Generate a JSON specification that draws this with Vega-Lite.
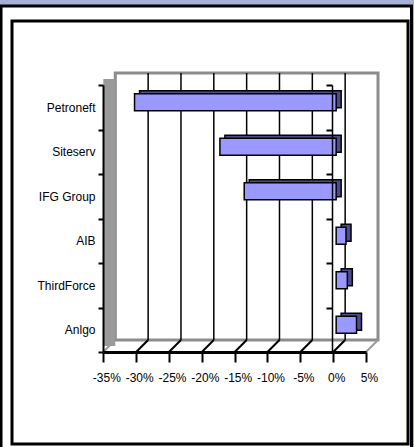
{
  "$schema": "https://vega.github.io/schema/vega-lite/v6.json",
  "width": 396,
  "height": 423,
  "autosize": {"type": "none"},
  "padding": {"left": 12, "top": 21, "right": 6, "bottom": 3},
  "background": "#a4b0d6",
  "config": {"view": {"stroke": null}, "font": "Liberation Sans"},
  "datasets": {
    "returns": [
      {"company": "Petroneft", "change": -30.7},
      {"company": "Siteserv", "change": -17.7},
      {"company": "IFG Group", "change": -14.0},
      {"company": "AIB", "change": 1.5},
      {"company": "ThirdForce", "change": 1.7},
      {"company": "Anlgo", "change": 3.1}
    ],
    "ticks": [{"t": -35}, {"t": -30}, {"t": -25}, {"t": -20}, {"t": -15}, {"t": -10}, {"t": -5}, {"t": 0}, {"t": 5}],
    "one": [{}]
  },
  "resolve": {"scale": {"y": "independent"}, "axis": {"y": "independent"}},
  "layer": [
    {
      "data": {"name": "one"},
      "mark": {"type": "rect", "fill": "white", "stroke": "black", "strokeWidth": 3, "xOffset": -102.3, "x2Offset": 45.5, "yOffset": -79, "y2Offset": 119},
      "encoding": {
        "x": {"datum": -35, "type": "quantitative"},
        "x2": {"datum": 5},
        "y": {"datum": 6, "type": "quantitative", "scale": {"domain": [0, 6], "range": [331, 64]}, "axis": null},
        "y2": {"datum": 0}
      }
    },
    {
      "data": {"name": "one"},
      "mark": {"type": "rect", "fill": null, "stroke": "black", "strokeWidth": 3, "xOffset": -91.3, "x2Offset": 42, "yOffset": -64, "y2Offset": 92},
      "encoding": {
        "x": {"datum": -35, "type": "quantitative"},
        "x2": {"datum": 5},
        "y": {"datum": 6, "type": "quantitative", "scale": {"domain": [0, 6], "range": [331, 64]}, "axis": null},
        "y2": {"datum": 0}
      }
    },
    {
      "data": {"name": "one"},
      "mark": {"type": "rect", "fill": "white", "stroke": "#8c8c8c", "strokeWidth": 3, "xOffset": 12, "x2Offset": 12, "yOffset": -12, "y2Offset": -12},
      "encoding": {
        "x": {"datum": -35, "type": "quantitative"},
        "x2": {"datum": 5},
        "y": {"datum": 0, "type": "quantitative", "scale": {"domain": [0, 6], "range": [331, 64]}, "axis": null},
        "y2": {"datum": 6}
      }
    },
    {
      "data": {"name": "one"},
      "mark": {"type": "rule", "stroke": "#9a9a9a", "strokeWidth": 12, "strokeCap": "butt", "xOffset": 6, "x2Offset": 6, "yOffset": -6, "y2Offset": -6},
      "encoding": {
        "x": {"datum": -35, "type": "quantitative"},
        "x2": {"datum": -35},
        "y": {"datum": 0, "type": "quantitative", "scale": {"domain": [0, 6], "range": [331, 64]}, "axis": null},
        "y2": {"datum": 6}
      }
    },
    {
      "data": {"name": "ticks"},
      "mark": {"type": "rule", "stroke": "black", "strokeWidth": 1.5, "xOffset": 12, "x2Offset": 12, "yOffset": -12, "y2Offset": -12},
      "transform": [{"filter": "datum.t > -35 && datum.t < 5"}],
      "encoding": {
        "x": {"field": "t", "type": "quantitative"},
        "x2": {"field": "t"},
        "y": {"datum": 0, "type": "quantitative", "scale": {"domain": [0, 6], "range": [331, 64]}, "axis": null},
        "y2": {"datum": 6}
      }
    },
    {
      "data": {"name": "ticks"},
      "mark": {"type": "rule", "strokeWidth": 2, "x2Offset": 12, "y2Offset": -12},
      "encoding": {
        "x": {"field": "t", "type": "quantitative"},
        "x2": {"field": "t"},
        "y": {"datum": 0, "type": "quantitative", "scale": {"domain": [0, 6], "range": [331, 64]}, "axis": null},
        "y2": {"datum": 0},
        "stroke": {"condition": {"test": "datum.t == -35 || datum.t == 5", "value": "#9a9a9a"}, "value": "black"}
      }
    },
    {
      "data": {"name": "returns"},
      "mark": {"type": "bar", "fill": "#4d4d8c", "stroke": "black", "strokeWidth": 1.5, "height": 17, "xOffset": 8, "x2Offset": 8, "yOffset": -8},
      "encoding": {
        "x": {"field": "change", "type": "quantitative"},
        "y": {"field": "company", "type": "nominal", "sort": null, "scale": {"domain": ["Petroneft", "Siteserv", "IFG Group", "AIB", "ThirdForce", "Anlgo"], "range": [64, 331], "paddingInner": 0, "paddingOuter": 0}, "axis": null}
      }
    },
    {
      "data": {"name": "returns"},
      "mark": {"type": "bar", "fill": "#9999ff", "stroke": "black", "strokeWidth": 1.5, "height": 17, "xOffset": 3, "x2Offset": 3, "yOffset": -5},
      "encoding": {
        "x": {
          "field": "change",
          "type": "quantitative",
          "scale": {"domain": [-35, 5], "range": [91.3, 354], "nice": false, "zero": false},
          "axis": {
            "values": [-35, -30, -25, -20, -15, -10, -5, 0, 5],
            "labelExpr": "datum.value + '%'",
            "title": null,
            "grid": false,
            "offset": -92,
            "domainColor": "black",
            "domainWidth": 3,
            "tickColor": "black",
            "tickWidth": 2,
            "tickSize": 10,
            "labelPadding": 10,
            "labelFontSize": 12,
            "labelFont": "Liberation Sans",
            "labelColor": "black",
            "labelOffset": 3,
            "labelFlush": false,
            "labelOverlap": false,
            "zindex": 1
          }
        },
        "y": {
          "field": "company",
          "type": "nominal",
          "sort": null,
          "scale": {"domain": ["Petroneft", "Siteserv", "IFG Group", "AIB", "ThirdForce", "Anlgo"], "range": [64, 331], "paddingInner": 0, "paddingOuter": 0},
          "axis": {
            "orient": "left",
            "title": null,
            "offset": -91,
            "tickBand": "extent",
            "domainColor": "black",
            "domainWidth": 2,
            "tickColor": "black",
            "tickWidth": 2,
            "tickSize": 5,
            "labelPadding": 3,
            "labelFontSize": 12,
            "labelFont": "Liberation Sans",
            "labelColor": "black",
            "zindex": 1
          }
        }
      }
    },
    {
      "data": {"name": "one"},
      "mark": {"type": "rule", "strokeOpacity": 0},
      "encoding": {
        "y": {
          "datum": "Petroneft",
          "type": "nominal",
          "scale": {"domain": ["Petroneft", "Siteserv", "IFG Group", "AIB", "ThirdForce", "Anlgo"], "range": [64, 331], "paddingInner": 0, "paddingOuter": 0},
          "axis": {
            "orient": "left",
            "title": null,
            "offset": -320,
            "tickBand": "extent",
            "labels": false,
            "domainColor": "black",
            "domainWidth": 1.5,
            "tickColor": "black",
            "tickWidth": 2,
            "tickSize": 6,
            "zindex": 1
          }
        }
      }
    }
  ]
}
